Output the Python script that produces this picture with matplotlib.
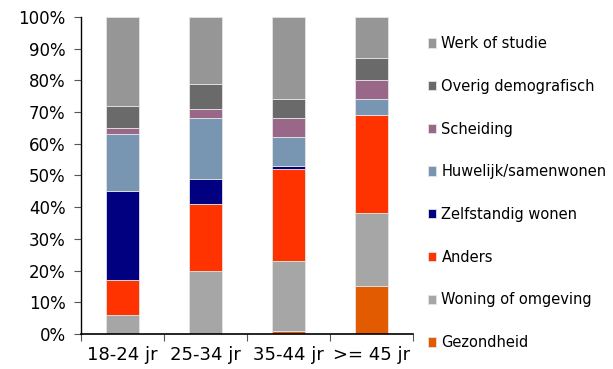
import numpy as np
import matplotlib.pyplot as plt
from matplotlib.ticker import FixedLocator, NullFormatter

groups = ["18-24 jr", "25-34 jr", "35-44 jr", ">= 45 jr"]

# shares per reason (%), bottom to top of each stack
gezondheid = [0, 0, 1, 15]
woning = [6, 20, 22, 23]
anders = [11, 21, 29, 31]
zelfstandig = [28, 8, 1, 0]
huwelijk = [18, 19, 9, 5]
scheiding = [2, 3, 6, 6]
overig = [7, 8, 6, 7]
werk = [28, 21, 26, 13]

series = [
    ("Gezondheid", gezondheid, "#E35B00"),
    ("Woning of omgeving", woning, "#A6A6A6"),
    ("Anders", anders, "#FF3300"),
    ("Zelfstandig wonen", zelfstandig, "#000080"),
    ("Huwelijk/samenwonen", huwelijk, "#7895B2"),
    ("Scheiding", scheiding, "#996888"),
    ("Overig demografisch", overig, "#6A6A6A"),
    ("Werk of studie", werk, "#969696"),
]

fig = plt.figure(figsize=(6.13, 3.69), dpi=100)
ax = fig.add_axes([0.132, 0.095, 0.542, 0.859])

x = np.arange(len(groups))
bottom = np.zeros(len(groups))
handles = []
for name, vals, col in series:
    vals = np.array(vals, dtype=float)
    b = ax.bar(x, vals, width=0.4, bottom=bottom, color=col,
               edgecolor="#e4e4e4", linewidth=0.6, label=name)
    handles.append(b)
    bottom += vals

ax.set_xlim(-0.5, 3.5)
ax.set_ylim(0, 100)
ax.set_yticks(np.arange(0, 101, 10))
ax.set_yticklabels([f"{v}%" for v in range(0, 101, 10)], fontsize=12)

# category ticks between bars, labels centred under bars
ax.xaxis.set_major_locator(FixedLocator(np.arange(-0.5, 4, 1)))
ax.xaxis.set_major_formatter(NullFormatter())
ax.xaxis.set_minor_locator(FixedLocator(x))
ax.set_xticklabels(groups, minor=True, fontsize=13)
ax.tick_params(axis="x", which="minor", length=0, pad=9)
ax.tick_params(axis="x", which="major", length=5, color="#555555")
ax.tick_params(axis="y", length=5, color="#555555", pad=6)

for s in ["top", "right"]:
    ax.spines[s].set_visible(False)
ax.spines["left"].set_linewidth(1.0)
ax.spines["bottom"].set_linewidth(1.2)

fig.legend(handles[::-1], [s[0] for s in series][::-1],
           loc="upper left", bbox_to_anchor=(0.688, 0.918),
           frameon=False, fontsize=10.5, handlelength=0.6, handleheight=0.6,
           handletextpad=0.35, labelspacing=1.9, borderaxespad=0)

fig.savefig("out.png", dpi=100)
